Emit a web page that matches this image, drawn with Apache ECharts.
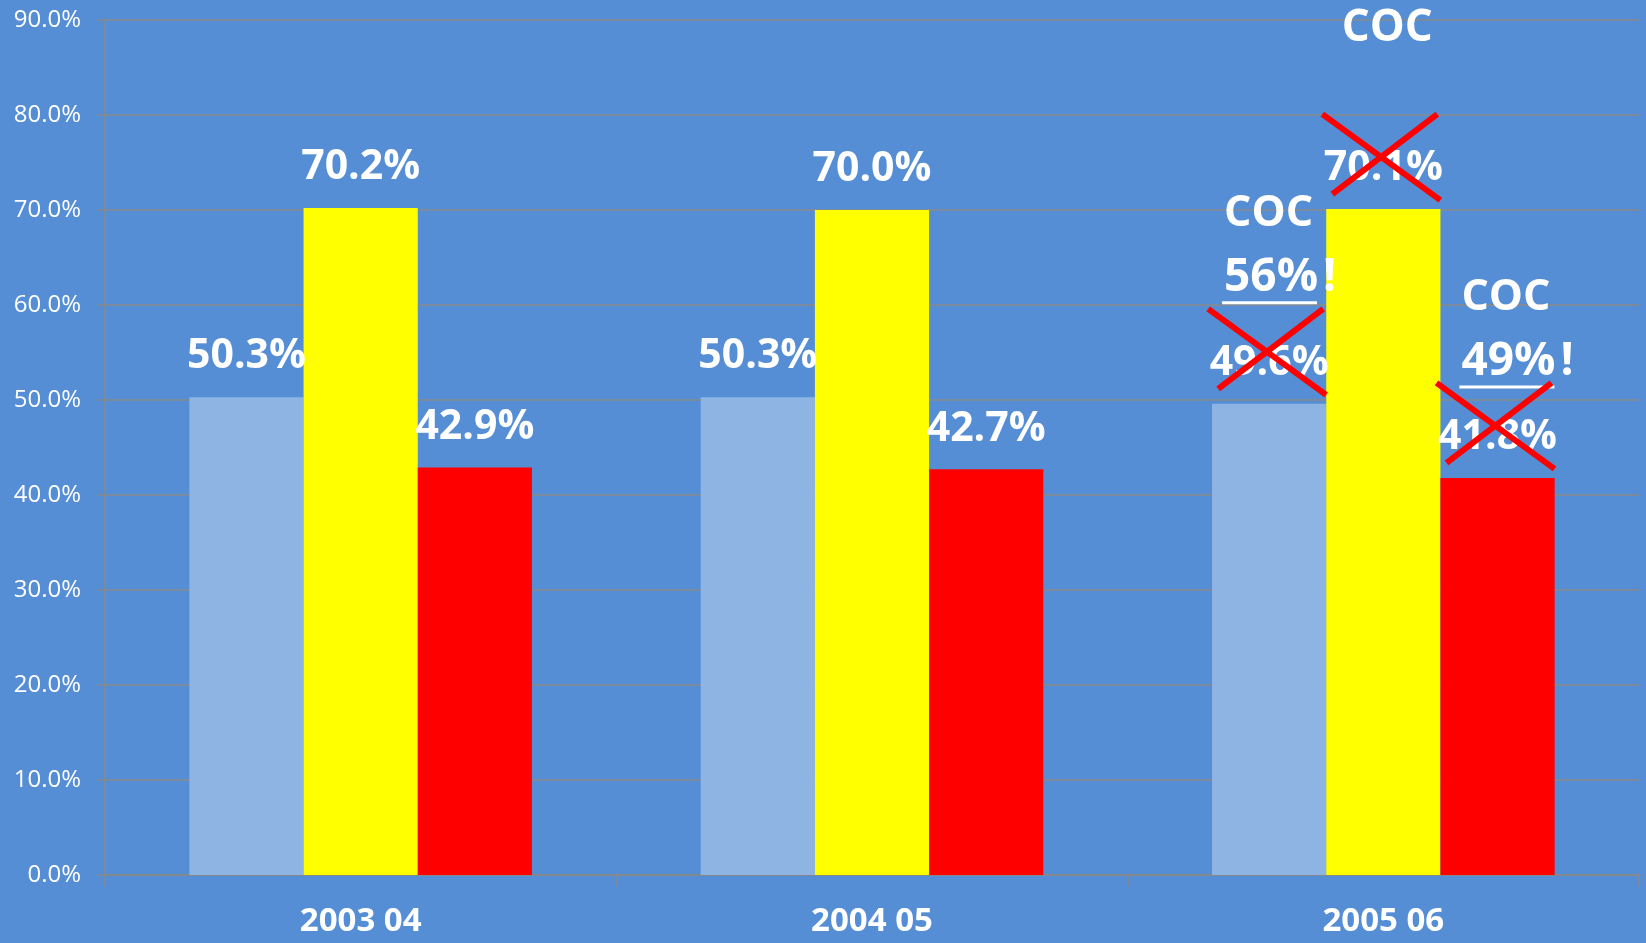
<!DOCTYPE html>
<html><head><meta charset="utf-8">
<script src="https://cdn.jsdelivr.net/npm/echarts@6/dist/echarts.min.js"></script>
<style>html,body{margin:0;padding:0;background:#558ED5;}#c{width:1646px;height:943px;}</style>
</head><body><div id="c"></div>
<script>
const categories = ['2003 04', '2004 05', '2005 06'];
const seriesLight = [50.3, 50.3, 49.6];
const seriesYellow = [70.2, 70.0, 70.1];
const seriesRed = [42.9, 42.7, 41.8];
const yMin = 0, yMax = 90, yStep = 10;

// annotations on the last category
const crossed = [[0, 2], [1, 2], [2, 2]];           // [seriesIndex, dataIndex]
const cocTop = { series: 1, index: 2, text: 'COC' };
const cocNotes = [
  { series: 0, index: 2, title: 'COC', value: '56%', bang: '!' },
  { series: 2, index: 2, title: 'COC', value: '49%', bang: '!' }
];

const FONT = 'Open Sans';
const chart = echarts.init(document.getElementById('c'), null, { renderer: 'canvas' });
const labelCfg = {
  show: true, position: 'top', distance: 20, color: '#fff',
  fontFamily: FONT, fontWeight: 'bold', fontSize: 41, lineHeight: 41,
  formatter: p => p.value.toFixed(1) + '%'
};
chart.setOption({
  animation: false,
  backgroundColor: '#558ED5',
  grid: { left: 105, right: 7, top: 20, bottom: 68, containLabel: false },
  xAxis: {
    type: 'category', data: categories,
    axisLine: { show: true, lineStyle: { color: '#888888', width: 1.5 } },
    axisTick: { show: true, length: 11, alignWithLabel: false, lineStyle: { color: '#888888', width: 1.5 } },
    axisLabel: { color: '#fff', fontFamily: FONT, fontWeight: 'bold', fontSize: 33, margin: 30 }
  },
  yAxis: {
    type: 'value', min: yMin, max: yMax, interval: yStep,
    axisLine: { show: true, lineStyle: { color: '#888888', width: 1.5 } },
    axisTick: { show: true, length: 8, lineStyle: { color: '#888888', width: 1.5 } },
    splitLine: { show: true, lineStyle: { color: '#888888', width: 1.5 } },
    axisLabel: { color: '#fff', fontFamily: FONT, fontSize: 24, margin: 24, formatter: v => v.toFixed(1) + '%' }
  },
  series: [
    { type: 'bar', data: seriesLight, itemStyle: { color: '#8EB4E3' }, barGap: '0%', barCategoryGap: '33%', label: labelCfg, z: 2 },
    { type: 'bar', data: seriesYellow, itemStyle: { color: '#FFFF00' }, barGap: '0%', barCategoryGap: '33%', label: labelCfg, z: 2 },
    { type: 'bar', data: seriesRed, itemStyle: { color: '#FF0000' }, barGap: '0%', barCategoryGap: '33%', label: labelCfg, z: 2 }
  ]
});

function layoutOf(si, di) {
  const l = chart.getModel().getSeriesByIndex(si).getData().getItemLayout(di);
  const top = Math.min(l.y, l.y + l.height);
  return { left: l.x, width: l.width, cx: l.x + l.width / 2, top: top };
}

const graphics = [];
const textEl = (t, x, y, align, size) => ({
  type: 'text', z: 100, x: x, y: y,
  style: { text: t, fill: '#fff', font: 'bold ' + (size || 42) + 'px "' + FONT + '"', align: align || 'center', verticalAlign: 'middle' }
});
crossed.forEach(([si, di]) => {
  const b = layoutOf(si, di);
  const cx = b.cx - 2, cy = b.top - 52, hw = 59, hh = 43;
  graphics.push({ type: 'line', z: 110, shape: { x1: cx - hw, y1: cy - hh, x2: cx + hw, y2: cy + hh }, style: { stroke: '#FF0000', lineWidth: 6 } });
  graphics.push({ type: 'line', z: 110, shape: { x1: cx - hw + 10, y1: cy + hh - 6, x2: cx + hw - 3, y2: cy - hh }, style: { stroke: '#FF0000', lineWidth: 6 } });
});
{
  const b = layoutOf(cocTop.series, cocTop.index);
  graphics.push(textEl(cocTop.text, b.cx + 4, b.top - 181, 'center', 44));
}
cocNotes.forEach((n, k) => {
  const b = layoutOf(n.series, n.index);
  const x0 = k === 0 ? b.left + 12 : b.left + 21;
  const dy = k === 0 ? 0 : 10;
  graphics.push(textEl(n.title, x0, b.top - 190 + dy, 'left', 43));
  graphics.push(textEl(n.value, x0, b.top - 126 + dy, 'left', 46));
  graphics.push(textEl(n.bang, x0 + 99, b.top - 126 + dy, 'left', 46));
  graphics.push({ type: 'line', z: 100, shape: { x1: x0 - 2, y1: b.top - 101 + dy, x2: x0 + 93, y2: b.top - 101 + dy }, style: { stroke: '#fff', lineWidth: 3 } });
});
chart.setOption({ graphic: graphics });
</script>
</body></html>
